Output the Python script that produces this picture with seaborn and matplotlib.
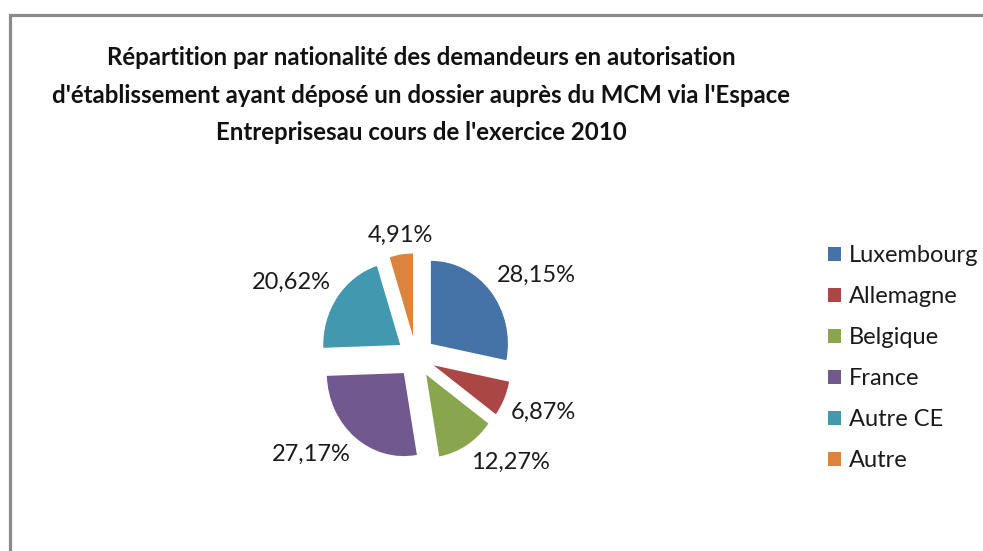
#repartition par nationalite - pie chart

import numpy as np
import matplotlib.pyplot as plt
import matplotlib.patches as mpatches
import seaborn as sns

# data
pays = ["Luxembourg", "Allemagne", "Belgique", "France", "Autre CE", "Autre"]
parts = [28.15, 6.87, 12.27, 27.17, 20.62, 4.91]
couleurs = ["#4572A7", "#AA4643", "#89A54E", "#71588F", "#4198AF", "#DB843D"]
titre = ("Répartition par nationalité des demandeurs en autorisation\n"
         "d'établissement ayant déposé un dossier auprès du MCM via l'Espace\n"
         "Entreprisesau cours de l'exercice 2010")

sns.set_theme(style="white")
plt.rcParams['font.family'] = ['Lato', 'DejaVu Sans']

W, H = 983, 551
fig = plt.figure(figsize=(W / 100, H / 100), dpi=100)

# gray frame (only top and left edges visible in the picture)
frame = mpatches.Rectangle((9.5 / W, -0.1), 1.2, 1 - 14.5 / H + 0.1,
                           transform=fig.transFigure, fill=False,
                           edgecolor="#8a8a8a", linewidth=2.3, clip_on=False)
fig.patches.append(frame)

# pie axes: centre ~ (416, 357) px, radius ~77 px across, ~83 px up/down
rx, ry = 77, 83
half = 2.5
cx, cy = 416, 357
ax = fig.add_axes([(cx - half * rx) / W, (H - cy - half * ry) / H,
                   2 * half * rx / W, 2 * half * ry / H])

palette = sns.color_palette(couleurs)
expl = 0.25
wedges, texts, autotexts = ax.pie(
    parts, colors=palette, startangle=90, counterclock=False,
    explode=[expl] * len(parts),
    autopct=lambda p: f"{p:.2f}%".replace(".", ","),
    pctdistance=1.3, wedgeprops=dict(linewidth=0))

# put labels just outside each slice, anchored by the near corner (like Excel)
for w, t in zip(wedges, autotexts):
    ang = np.deg2rad((w.theta1 + w.theta2) / 2)
    c, s = np.cos(ang), np.sin(ang)
    d = expl + 1.1
    t.set_position((d * c, d * s))
    t.set_ha("left" if c > 0.3 else ("right" if c < -0.3 else "center"))
    t.set_va("bottom" if s > 0.3 else ("top" if s < -0.3 else "center"))
    t.set_fontsize(17)
    t.set_color("#1a1a1a")

ax.set_aspect("auto")
ax.set_xlim(-half, half)
ax.set_ylim(-half, half)
ax.axis("off")

fig.text(421 / W, 1 - 46 / H, titre, ha="center", va="top",
         fontsize=17.3, fontweight="bold", linespacing=1.77, color="#111111")

fig.legend(wedges, pays, loc="upper left",
           bbox_to_anchor=(828 / W, 1 - 245 / H), frameon=False,
           fontsize=17, borderaxespad=0, borderpad=0,
           handlelength=0.55, handleheight=0.55, handletextpad=0.35,
           labelspacing=0.85, labelcolor="#1a1a1a")

fig.savefig("out.png", dpi=100)
